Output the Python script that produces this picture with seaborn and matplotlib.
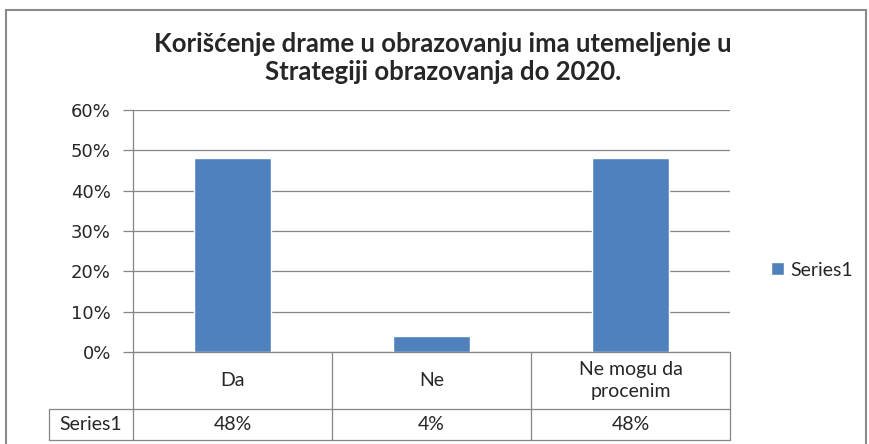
import numpy as np
import pandas as pd
import matplotlib
matplotlib.use("Agg")
import matplotlib.pyplot as plt
import matplotlib.transforms as mtransforms
from matplotlib.ticker import PercentFormatter
from matplotlib.patches import Rectangle
import seaborn as sns

# data
categories = ["Da", "Ne", "Ne mogu da\nprocenim"]
values = [0.48, 0.04, 0.48]
value_labels = ["48%", "4%", "48%"]
series_name = "Series1"
title = "Korišćenje drame u obrazovanju ima utemeljenje u\nStrategiji obrazovanja do 2020."

sns.set_style("white")
plt.rcParams["font.family"] = ["Lato", "DejaVu Sans"]

W, H = 869, 444
fig = plt.figure(figsize=(W / 100, H / 100), dpi=100)
# plot area in pixels: left 133, right 730, top 110, bottom 352
ax = fig.add_axes([133 / W, (H - 352) / H, 597 / W, 242 / H])

df = pd.DataFrame({"cat": categories, "val": values})
sns.barplot(data=df, x="cat", y="val", color="#4F81BD", width=0.39,
            saturation=1, label=series_name, ax=ax)

grid_c = "#868686"
ax.set_xlim(-0.5, len(categories) - 0.5)
ax.set_ylim(0, 0.6)
ax.set_yticks(np.arange(0, 0.61, 0.1))
ax.yaxis.set_major_formatter(PercentFormatter(1, decimals=0))
ax.yaxis.grid(True, color=grid_c, linewidth=0.9)
ax.set_axisbelow(True)
ax.tick_params(axis="y", length=7, width=0.9, color=grid_c, pad=9,
               labelsize=13, labelfontfamily="DejaVu Sans", left=True)
ax.set_xticks([])
ax.set_xlabel("")
ax.set_ylabel("")
for s in ["top", "right"]:
    ax.spines[s].set_visible(False)
ax.spines["left"].set_color(grid_c)
ax.spines["bottom"].set_color(grid_c)
ax.spines["left"].set_linewidth(0.9)
ax.spines["bottom"].set_linewidth(0.9)

# data table under the plot
trans = mtransforms.blended_transform_factory(ax.transData, ax.transAxes)
row1 = (352 - 409) / 242
row2 = (352 - 440) / 242
hdr_left = -0.5 - (133 - 49) / 199
n = len(categories)
for b in np.arange(n + 1) - 0.5:
    ax.plot([b, b], [0, row2], transform=trans, color=grid_c, lw=0.9, clip_on=False)
ax.plot([hdr_left, hdr_left], [row1, row2], transform=trans, color=grid_c, lw=0.9, clip_on=False)
ax.plot([hdr_left, n - 0.5], [row1, row1], transform=trans, color=grid_c, lw=0.9, clip_on=False)
ax.plot([hdr_left, n - 0.5], [row2, row2], transform=trans, color=grid_c, lw=0.9, clip_on=False)

for i, (c, v) in enumerate(zip(categories, value_labels)):
    ax.text(i, row1 / 2, c, transform=trans, ha="center", va="center",
            fontsize=14, linespacing=1.3)
    ax.text(i, (row1 + row2) / 2, v, transform=trans, ha="center", va="center",
            fontsize=14)
ax.text((hdr_left - 0.5) / 2, (row1 + row2) / 2, series_name, transform=trans,
        ha="center", va="center", fontsize=14)

leg = ax.legend(loc="center left", bbox_to_anchor=(1.04, (352 - 270) / 242),
                frameon=False, handlelength=0.65, handleheight=0.65,
                handletextpad=0.3, prop={"size": 14})

fig.text(443 / W, 1 - 58 / H, title, ha="center", va="center",
         fontsize=18.5, fontweight="bold", linespacing=1.2)

# outer chart border
fig.patches.append(Rectangle((6 / W, -0.05), 860 / W, 1.05 - 10 / H,
                             transform=fig.transFigure, fill=False,
                             edgecolor="#8a8a8a", lw=1.5))

fig.savefig("out.png", dpi=100, facecolor="white")
